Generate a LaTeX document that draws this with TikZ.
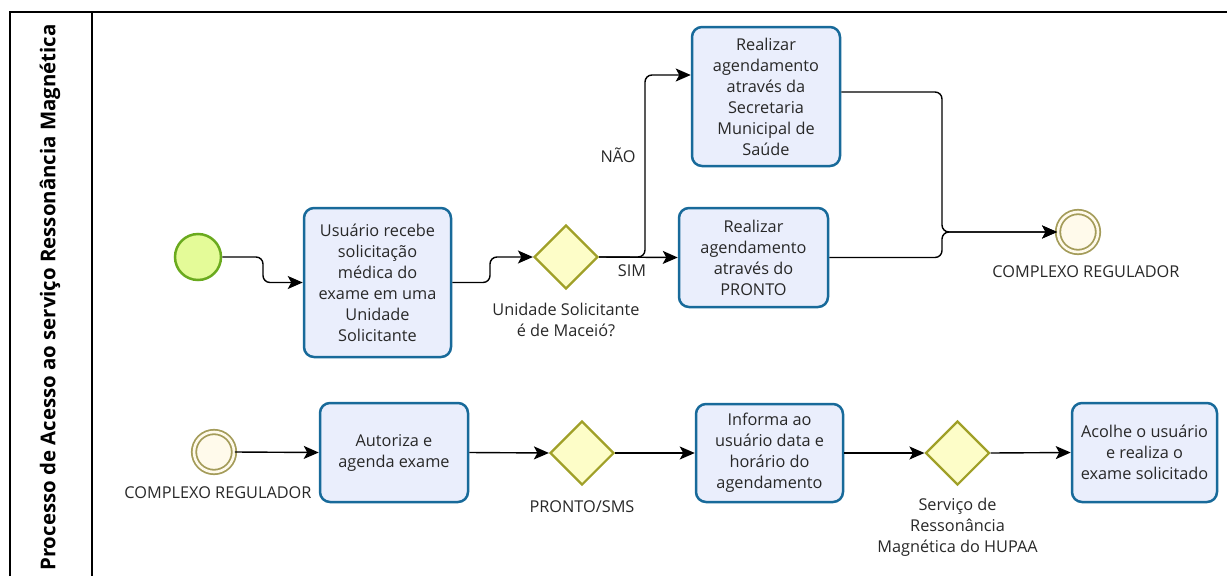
\documentclass[tikz,border=0pt]{standalone}
\usepackage{fontspec}
\setmainfont{Open Sans}
\usetikzlibrary{arrows.meta,shapes.geometric}
\definecolor{tasklinha}{RGB}{24,106,154}
\definecolor{taskfundo}{RGB}{234,238,252}
\definecolor{gatelinha}{RGB}{160,160,40}
\definecolor{gatefundo}{RGB}{253,253,200}
\definecolor{iniciolinha}{RGB}{106,170,30}
\definecolor{iniciofundo}{RGB}{228,251,152}
\definecolor{fimlinha}{RGB}{164,156,90}
\definecolor{fimfundo}{RGB}{255,250,235}
\definecolor{texto}{RGB}{40,40,40}
\tikzset{
  task/.style={draw=tasklinha,line width=2.5pt,fill=taskfundo,rounded corners=10pt,align=center,text=texto,font=\fontsize{16.3}{21}\selectfont,inner sep=0pt},
  gate/.style={diamond,draw=gatelinha,fill=gatefundo,line width=2.2pt,minimum width=64,minimum height=64,inner sep=0pt},
  evento/.style={circle,draw=fimlinha,line width=1.8pt,double=fimfundo,double distance=2.6pt,fill=fimfundo,minimum size=40,inner sep=0pt},
  lbl/.style={align=center,text=texto,font=\fontsize{16.3}{21}\selectfont,inner sep=0pt},
  flow/.style={line width=1.4pt,rounded corners=7pt,-{Stealth[length=15pt,width=13pt,inset=3.5pt]}}
}
\begin{document}
\begin{tikzpicture}[x=1pt,y=-1pt]
\useasboundingbox (0,0) rectangle (1227,576);
% lane
\draw[line width=1.2pt] (10,576) -- (10,12) -- (1227,12);
\draw[line width=1.2pt] (92,12) -- (92,576);
\node[rotate=90,text=black,font=\bfseries\fontsize{20.4}{22}\selectfont] (titulo) at (50,297.5) {Processo de Acesso ao serviço Ressonância Magnética};
% top row
\node[circle,draw=iniciolinha,fill=iniciofundo,line width=2.5pt,minimum size=46,inner sep=0pt] (inicio) at (198,257) {};
\node[task,minimum width=147,minimum height=149] (recebe) at (377.5,282.5) {Usuário recebe\\solicitação\\médica do\\exame em uma\\Unidade\\Solicitante};
\node[gate] (gw1) at (566,257) {};
\node[lbl] (lblgw1) at (566,320) {Unidade Solicitante\\é de Maceió?};
\node[task,minimum width=149,minimum height=99] (pronto) at (753.5,257.5) {Realizar\\agendamento\\através do\\PRONTO};
\node[task,minimum width=148,minimum height=139] (sms) at (766,96.5) {Realizar\\agendamento\\através da\\Secretaria\\Municipal de\\Saúde};
\node[evento] (fimA) at (1078,232) {};
\node[lbl] (lblfimA) at (1086,272) {COMPLEXO REGULADOR};
\node[lbl] (sim) at (632,271) {SIM};
\node[lbl] (nao) at (618,155) {NÃO};
\draw[flow] (inicio.east) -| (263,282.5) -- (recebe.west);
\draw[flow] (recebe.east) -| (490,257) -- (gw1.west);
\draw[flow] (gw1.east) -- (pronto.west);
\draw[flow] (gw1.east) -| (645,75) -- (sms.west |- 0,75);
\draw[flow] (sms.east |- 0,92) -| (942,232) -- (fimA.west);
\draw[flow] (pronto.east) -| (942,232) -- (fimA.west);
% bottom row
\node[evento] (inicioB) at (214,452) {};
\node[lbl] (lblinicioB) at (218,493) {COMPLEXO REGULADOR};
\node[task,minimum width=148,minimum height=99] (autoriza) at (394,452.5) {Autoriza e\\agenda exame};
\node[gate] (gw2) at (582,453) {};
\node[lbl] (lblgw2) at (582,507) {PRONTO/SMS};
\node[task,minimum width=147,minimum height=98] (informa) at (769.5,453) {Informa ao\\usuário data e\\horário do\\agendamento};
\node[gate] (gw3) at (957.5,453) {};
\node[lbl] (lblgw3) at (957.5,527.5) {Serviço de\\Ressonância\\Magnética do HUPAA};
\node[task,minimum width=145,minimum height=99] (acolhe) at (1144.5,452.5) {Acolhe o usuário\\e realiza o\\exame solicitado};
\draw[flow] (inicioB.east) -- (autoriza.west);
\draw[flow] (autoriza.east) -- (gw2.west);
\draw[flow] (gw2.east) -- (informa.west);
\draw[flow] (informa.east) -- (gw3.west);
\draw[flow] (gw3.east) -- (acolhe.west);
\end{tikzpicture}
\end{document}
